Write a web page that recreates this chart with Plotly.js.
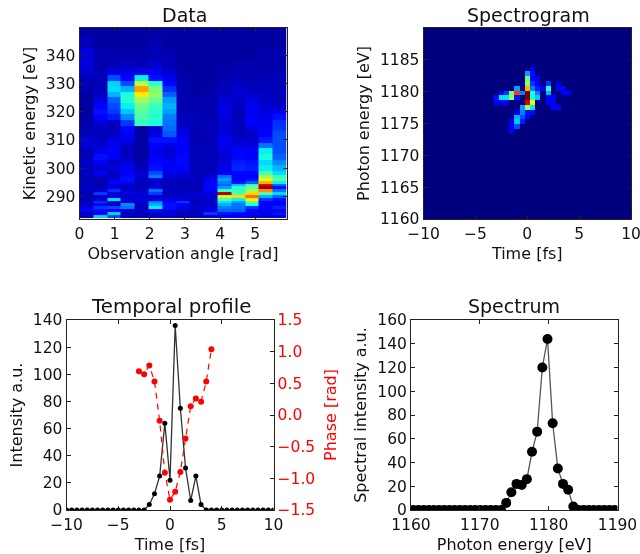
<!DOCTYPE html>
<html>
<head>
<meta charset="utf-8">
<script src="https://cdn.plot.ly/plotly-3.0.1.min.js"></script>
<style>html,body{margin:0;padding:0;background:#fff;overflow:hidden}#chart{width:640px;height:554px;filter:blur(0.45px)}</style>
</head>
<body>
<div id="chart"></div>
<script>
// --- Data panel: observation angle columns, kinetic energy rows
var dataAngles = [0.196,0.589,0.982,1.374,1.767,2.160,2.553,2.945,3.338,3.731,4.123,4.516,4.909,5.301,5.694];
var dataEnergies = [283,284,285,286,287,288,289,290, 291,292,293,294,295,296,297,298, 300,302,304,306,308,310,312,314, 316,318,320,322,324,326,328,330, 332,334,336,340,345,349];
var col0  = [6,5,11,8,6,7,5,5, 5,5,6,5,5,5,5,6, 6,6,5,5,7,8,5,4, 4,3,3,3,3,3,4,4, 5,7,8,8,5,3];
var col1  = [33,9,14,18,13,17,5,6, 18,7,5,4,4,5,5,12, 7,10,14,9,7,6,5,6, 8,12,14,12,8,6,5,5, 5,5,4,4,3,3];
var col2  = [20,33,12,20,7,6,35,10, 6,17,8,7,12,9,6,5, 8,6,10,11,10,9,6,5, 6,15,18,20,22,30,34,33, 20,9,5,4,3,3];
var col3  = [5,6,8,24,26,8,7,6, 9,7,6,6,11,14,13,12, 10,8,6,5,6,9,12,13, 18,26,32,36,40,38,30,20, 13,9,6,4,3,3];
var col4  = [5,5,7,5,6,6,9,6, 8,6,5,5,6,5,7,7, 5,4,3,3,3,3,3,3, 42,44,46,48,54,66,74,58, 36,10,5,4,3,3];
var col5  = [5,7,12,36,30,25,9,6, 18,24,10,6,6,8,25,20, 14,13,11,9,12,14,9,7, 38,40,40,42,48,52,50,40, 14,10,7,5,4,3];
var col6  = [6,7,9,14,14,13,9,6, 5,5,5,5,5,6,8,9, 10,11,8,7,9,14,21,23, 24,25,28,30,28,22,17,13, 10,7,5,4,3,3];
var col7  = [4,5,7,10,12,18,8,7, 6,5,5,5,5,5,7,8, 11,13,13,12,11,10,9,7, 6,5,5,4,4,4,4,4, 4,3,3,3,3,3];
var col8  = [5,5,6,7,6,6,5,7, 7,5,5,5,5,5,6,5, 5,5,5,5,5,4,4,5, 5,5,4,4,4,3,3,3, 3,3,3,3,3,3];
var col9  = [6,18,9,7,6,6,7,7, 8,12,13,13,11,9,7,6, 5,5,5,5,5,5,5,5, 5,4,4,4,4,4,3,3, 3,3,3,3,3,3];
var col10 = [10,14,22,25,30,35,45,60, 96,42,28,22,25,28,24,10, 9,8,7,8,9,10,8,8, 7,8,9,8,7,6,5,5, 4,4,3,3,3,3];
var col11 = [10,13,22,24,24,28,36,68, 44,42,40,32,14,12,11,13, 16,15,13,11,8,7,5,6, 5,5,5,6,6,7,7,6, 5,4,4,3,3,3];
var col12 = [8,10,13,18,38,48,66,80, 68,54,48,44,22,14,12,13, 15,14,12,11,8,7,6,8, 11,11,10,10,9,7,5,5, 4,4,4,3,3,3];
var col13 = [8,9,11,11,11,12,18,30, 46,76,97,92,72,62,55,44, 36,34,38,36,24,15,12,11, 10,9,8,7,6,6,5,5, 5,4,4,4,3,3];
var col14 = [8,14,10,16,12,12,14,22, 34,24,14,22,36,46,42,34, 30,26,22,20,20,20,20,18, 17,14,10,6,5,5,5,5, 5,4,4,4,3,3];
var dataCols = [col0,col1,col2,col3,col4,col5,col6,col7,col8,col9,col10,col11,col12,col13,col14];

// --- Spectrogram panel (cells outside this window are zero)
var specTimes = [-3,-2.5,-2,-1.5,-1,-0.5,0,0.5,1,1.5,2,2.5,3,3.5,4];
var specEnergies = [1173.8,1174.55,1175.3,1176.05,1176.8,1177.55,1178.3,1179.05,1179.8,1180.55,1181.3,1182.05,1182.8,1183.55];
var specRows = [
  [0,0,0,10,0,0,0,0,0,0,0,0,0,0,0],
  [0,0,0,12,20,0,0,0,0,0,0,0,0,0,0],
  [0,0,0,11,32,15,0,0,0,0,0,0,0,0,0],
  [0,0,0,0,30,20,13,0,0,0,0,0,0,0,0],
  [0,0,0,0,12,25,14,12,0,0,0,0,0,0,0],
  [0,0,0,0,0,28,55,35,0,0,0,12,12,0,0],
  [11,12,11,0,0,0,92,62,0,0,12,11,0,0,0],
  [14,35,35,52,15,0,100,38,32,0,12,12,0,0,0],
  [0,12,18,50,85,25,100,40,25,0,30,0,0,12,12],
  [0,0,0,0,28,0,72,25,15,12,40,0,12,12,0],
  [0,0,0,0,0,0,52,18,12,0,18,0,7,0,0],
  [0,0,0,0,0,0,48,12,11,0,0,0,0,0,0],
  [0,0,0,0,0,0,28,14,0,0,0,0,0,0,0],
  [0,0,0,0,0,0,0,12,0,0,0,0,0,0,0]
];

// --- Temporal profile panel
var timeAxis = [-10,-9.5,-9,-8.5,-8,-7.5,-7,-6.5,-6,-5.5,-5,-4.5,-4,-3.5,-3,-2.5,-2,-1.5,-1,-0.5,0,0.5,1,1.5,2,2.5,3,3.5,4,4.5,5,5.5,6,6.5,7,7.5,8,8.5,9,9.5,10];
var intensity = [0,0,0,0,0,0,0,0,0,0,0,0,0,0,0,0,4,12,25,64,22,136,75,31,7,25,4,0,0,0,0,0,0,0,0,0,0,0,0,0,0];
var phaseTimes = [-3,-2.5,-2,-1.5,-1,-0.5,0,0.5,1,1.5,2,2.5,3,3.5,4];
var phase = [0.69,0.645,0.78,0.53,-0.09,-0.91,-1.34,-1.21,-0.90,-0.37,0.14,0.26,0.21,0.53,1.04];

// --- Spectrum panel
var photonEnergy = [1160.33,1161.08,1161.83,1162.58,1163.33,1164.08,1164.83,1165.58,1166.33,1167.08,1167.83,1168.58,1169.33,1170.08,1170.83,1171.58,1172.33,1173.08,1173.83,1174.58,1175.33,1176.08,1176.83,1177.58,1178.33,1179.08,1179.83,1180.58,1181.33,1182.08,1182.83,1183.58,1184.33,1185.08,1185.83,1186.58,1187.33,1188.08,1188.83,1189.58];
var spectrum = [0,0,0,0,0,0,0,0,0,0,0,0,0,0,0,0,0,0,6,15,22,21,26,49,66,120,144,73,35,22,17,3,0,0,0,0,0,0,0,0];

var W = 640, H = 554;
var FONT = 'DejaVu Sans, sans-serif';
var INK = '#222';
var TICK = 15.5, LAB = 16, TTL = 19;
function dx(a,b){return [a/W,b/W];}
function dy(top,bot){return [1-bot/H,1-top/H];}
var jet = [[0,'rgb(0,0,127)'],[0.11,'rgb(0,0,255)'],[0.125,'rgb(0,0,255)'],[0.34,'rgb(0,219,255)'],[0.35,'rgb(0,230,247)'],[0.375,'rgb(20,255,226)'],[0.64,'rgb(239,255,8)'],[0.65,'rgb(247,246,0)'],[0.66,'rgb(255,236,0)'],[0.89,'rgb(255,19,0)'],[0.91,'rgb(232,0,0)'],[1,'rgb(127,0,0)']];

// transpose the per-angle columns into rows for the heatmap
var dataZ = dataEnergies.map(function(_,r){return dataCols.map(function(c){return c[r];});});

function axis(o){
  var base = {ticks:'inside',ticklen:4,tickwidth:1,tickcolor:INK,showline:true,linecolor:INK,linewidth:1,mirror:'ticks',
    showgrid:false,zeroline:false,tickfont:{family:FONT,size:TICK,color:'#111'},ticklabeloverflow:'allow'};
  for(var k in o) base[k]=o[k];
  return base;
}
function ttl(t,standoff,color){return {text:t,standoff:standoff,font:{family:FONT,size:LAB,color:color||'#111'}};}

var traces = [
  {type:'heatmap',x:dataAngles,y:dataEnergies,z:dataZ,zmin:0,zmax:100,colorscale:jet,showscale:false,xaxis:'x',yaxis:'y'},
  {type:'heatmap',x:specTimes,y:specEnergies,z:specRows,zmin:0,zmax:100,colorscale:jet,showscale:false,xaxis:'x2',yaxis:'y2'},
  {type:'scatter',mode:'lines+markers',x:timeAxis,y:intensity,xaxis:'x3',yaxis:'y3',line:{color:'#333',width:1.3},marker:{color:'#000',size:5}},
  {type:'scatter',mode:'lines+markers',x:phaseTimes,y:phase,xaxis:'x3',yaxis:'y5',line:{color:'#ff0000',width:1.2,dash:'6px,5px'},marker:{color:'#ff0000',size:6}},
  {type:'scatter',mode:'lines+markers',x:photonEnergy,y:spectrum,xaxis:'x4',yaxis:'y4',line:{color:'#555',width:1.3},marker:{color:'#000',size:10}}
];

function panelTitle(t,cx,cy,size){return {text:t,xref:'paper',yref:'paper',x:cx/W,y:1-cy/H,xanchor:'center',yanchor:'middle',showarrow:false,font:{family:FONT,size:size||TTL,color:'#111'}};}

var layout = {
  width:W,height:H,margin:{l:0,r:0,t:0,b:0},paper_bgcolor:'#fff',plot_bgcolor:'#fff',showlegend:false,
  xaxis:axis({domain:dx(79.5,286.5),anchor:'y',range:[0,5.89],tickvals:[0,1,2,3,4,5],title:ttl('Observation angle [rad]',6)}),
  yaxis:axis({domain:dy(28,219),anchor:'x',range:[282,349.6],tickvals:[290,300,310,320,330,340],title:ttl('Kinetic energy [eV]',6)}),
  xaxis2:axis({domain:dx(423.5,631),anchor:'y2',range:[-10,10],tickvals:[-10,-5,0,5,10],title:ttl('Time [fs]',6)}),
  yaxis2:axis({domain:dy(28,219),anchor:'x2',range:[1160,1190],tickvals:[1160,1165,1170,1175,1180,1185],title:ttl('Photon energy [eV]',6)}),
  xaxis3:axis({domain:dx(66.5,273.5),anchor:'y3',range:[-10,10],tickvals:[-10,-5,0,5,10],title:ttl('Time [fs]',6)}),
  yaxis3:axis({domain:dy(320,510),anchor:'x3',range:[0,140],tickvals:[0,20,40,60,80,100,120,140],mirror:false,title:ttl('Intensity a.u.',6)}),
  yaxis5:axis({domain:dy(320,510),anchor:'x3',overlaying:'y3',side:'right',range:[-1.5,1.5],tickvals:[-1.5,-1,-0.5,0,0.5,1,1.5],ticktext:['\u22121.5','\u22121.0','\u22120.5','0.0','0.5','1.0','1.5'],mirror:false,tickfont:{family:FONT,size:TICK,color:'#ff0000'},title:ttl('Phase [rad]',10,'#ff0000')}),
  xaxis4:axis({domain:dx(411,617.5),anchor:'y4',range:[1160,1190],tickvals:[1160,1170,1180,1190],title:ttl('Photon energy [eV]',6)}),
  yaxis4:axis({domain:dy(320,510),anchor:'x4',range:[0,160],tickvals:[0,20,40,60,80,100,120,140,160],title:ttl('Spectral intensity a.u.',6)}),
  annotations:[
    panelTitle('Data',184,15),
    panelTitle('Spectrogram',528,15),
    panelTitle('Temporal profile',171,306,19.8),
    panelTitle('Spectrum',514,306)
  ],
  shapes:[
    {type:'rect',xref:'x2 domain',yref:'y2 domain',x0:0,x1:1,y0:0,y1:1,fillcolor:'#00007f',line:{width:0},layer:'below'}
  ]
};
Plotly.newPlot('chart',traces,layout,{staticPlot:true,displayModeBar:false});
</script>
</body>
</html>
